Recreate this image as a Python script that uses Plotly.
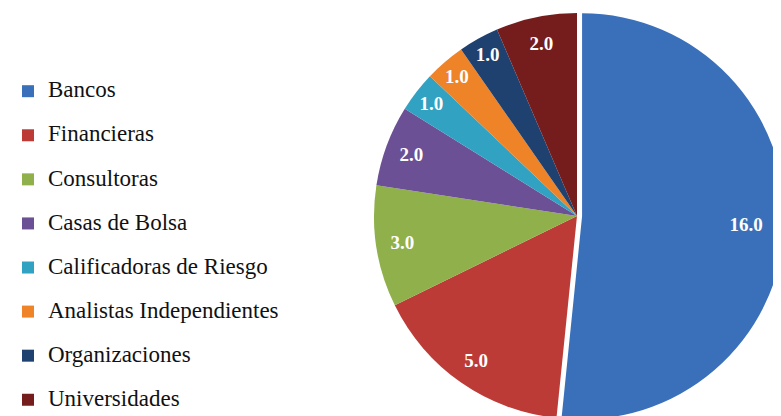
import plotly.graph_objects as go

categories = ["Bancos", "Financieras", "Consultoras", "Casas de Bolsa",
              "Calificadoras de Riesgo", "Analistas Independientes",
              "Organizaciones", "Universidades"]
values = [16, 5, 3, 2, 1, 1, 1, 2]
colors = ["#3A70BA", "#BC3B37", "#8FB04A", "#6C5095",
          "#31A2C1", "#EE8427", "#1F416F", "#751D1D"]
pulls = [0.025, 0, 0, 0, 0, 0, 0, 0]

SERIF = "Liberation Serif"
domain = dict(x=[361 / 781, 777 / 781], y=[0, 1])

legend_labels = [
    f' <br><span style="font-size:23px">{c}</span>'
    for c in categories
]

fig = go.Figure()
# Main pie (slices + legend)
fig.add_trace(go.Pie(
    labels=legend_labels,
    values=values,
    sort=False,
    direction="clockwise",
    rotation=0,
    pull=pulls,
    marker=dict(colors=colors, line=dict(width=0)),
    textinfo="none",
    domain=domain,
    hoverinfo="skip",
    showlegend=True,
))

# Transparent rings carrying the value labels near the outer edge
label_fmt = "%{value:.1f}"
ring_specs = [
    (0.74, [""] + [label_fmt] * (len(values) - 1)),   # small slices
    (0.62, [label_fmt] + [""] * (len(values) - 1)),   # large slice
]
for hole, templates in ring_specs:
    fig.add_trace(go.Pie(
        labels=categories,
        values=values,
        sort=False,
        direction="clockwise",
        rotation=0,
        pull=pulls,
        hole=hole,
        marker=dict(colors=["rgba(0,0,0,0)"] * len(values), line=dict(width=0)),
        texttemplate=templates,
        textposition="inside",
        insidetextorientation="horizontal",
        textfont=dict(family=SERIF, size=19, color="white", weight="bold"),
        domain=domain,
        hoverinfo="skip",
        showlegend=False,
    ))

fig.update_layout(
    width=781, height=416,
    margin=dict(l=0, r=0, t=0, b=0),
    paper_bgcolor="white",
    plot_bgcolor="white",
    showlegend=True,
    legend=dict(
        x=0.0, y=0.8897, xanchor="left", yanchor="top",
        font=dict(family=SERIF, size=15.8, color="#111111"),
        valign="bottom",
        bgcolor="rgba(0,0,0,0)",
    ),
)

fig.write_html("out.html")
